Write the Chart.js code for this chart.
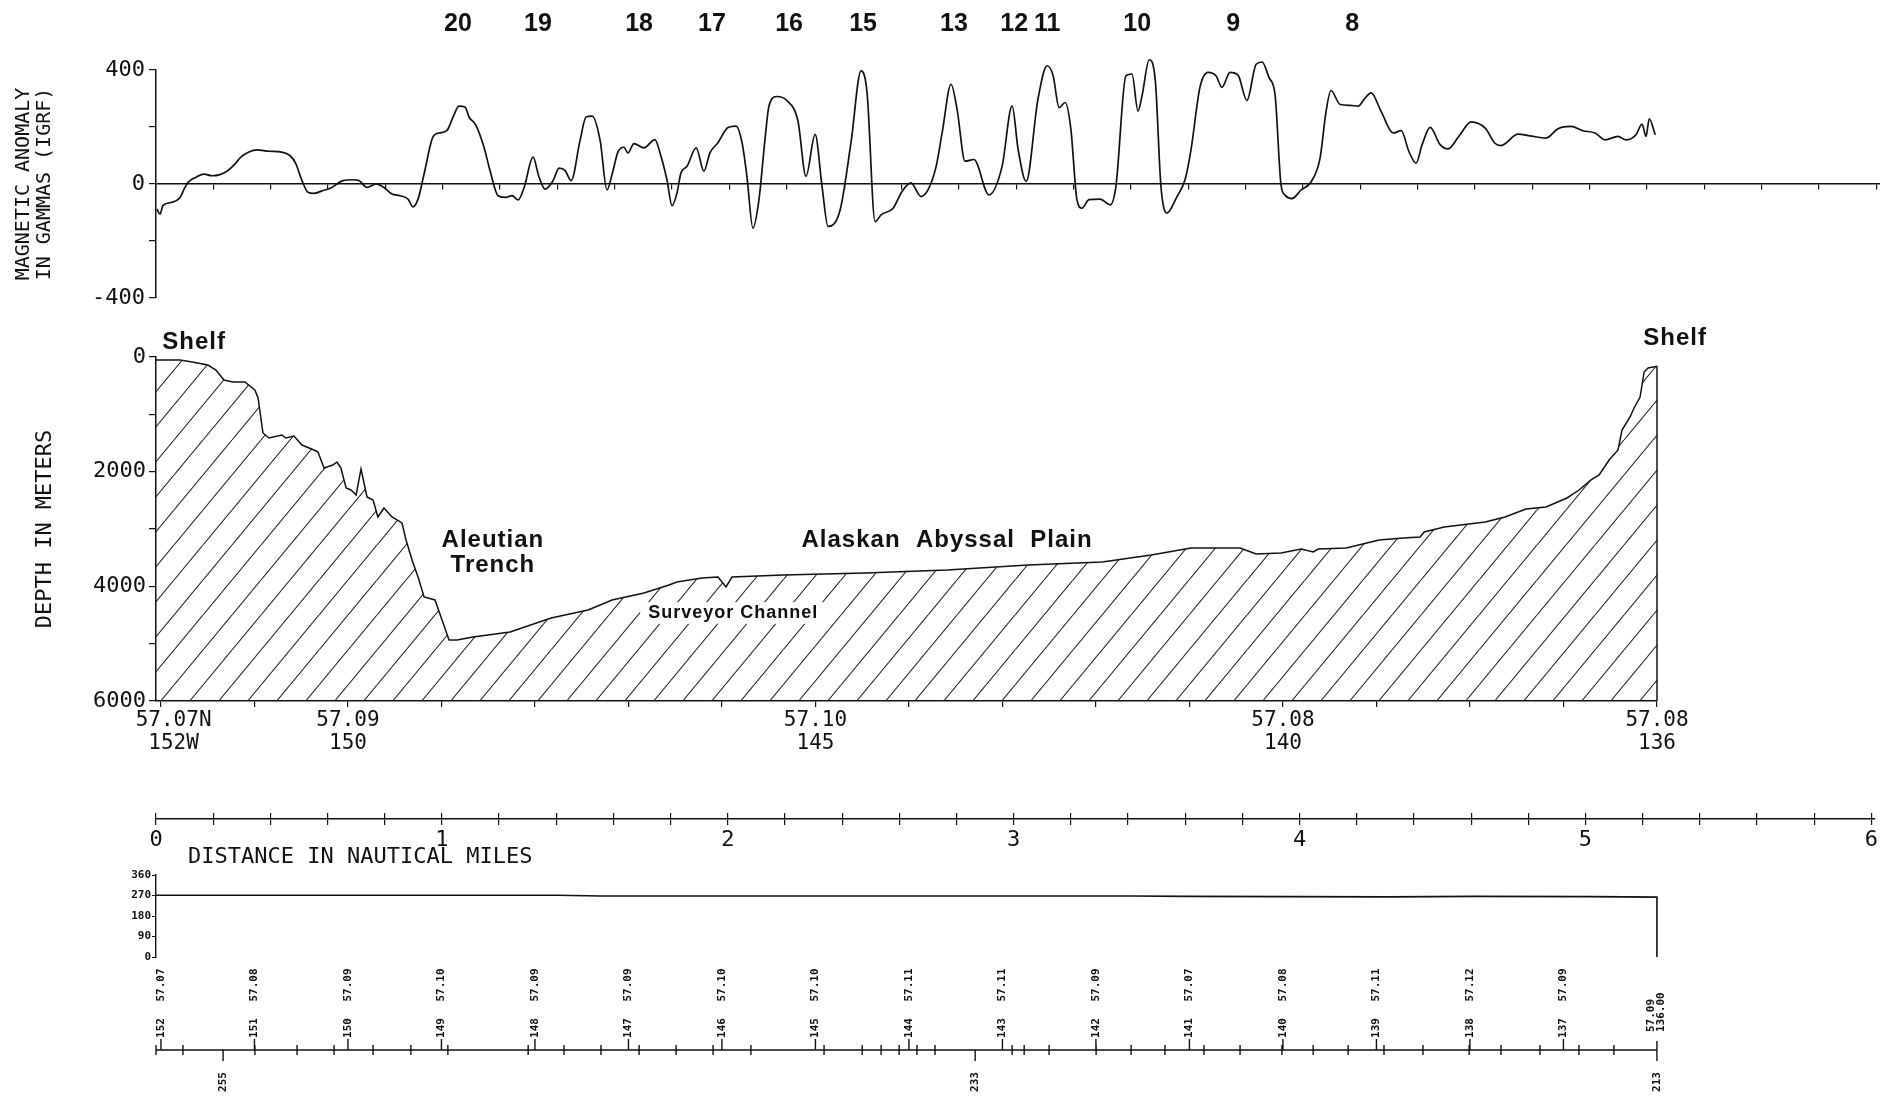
<!DOCTYPE html>
<html lang="en">
<head>
<meta charset="utf-8">
<title>Magnetic anomaly and depth profile, 57N, 152W - 136W</title>
<script src="https://cdn.jsdelivr.net/npm/chart.js@4.4.1/dist/chart.umd.min.js"></script>
<style>
  html, body { margin: 0; padding: 0; background: #fff; }
  body { width: 1880px; height: 1097px; position: relative; overflow: hidden; }
  canvas { position: absolute; left: 0; }
</style>
</head>
<body>
<canvas id="magChart" width="1880" height="320" style="top:0"></canvas>
<canvas id="depthChart" width="1880" height="460" style="top:300px"></canvas>
<canvas id="distChart" width="1880" height="110" style="top:780px"></canvas>
<canvas id="trackChart" width="1880" height="237" style="top:860px"></canvas>

<script>
// ---- data (x = distance along track, plot units 0..6) ----
const magDist = [0.003,0.014,0.024,0.052,0.084,0.098,0.112,0.140,0.167,0.195,0.223,0.248,0.276,0.296,0.324,0.352,0.394,0.439,0.467,0.488,
  0.509,0.530,0.551,0.579,0.610,0.652,0.687,0.708,0.736,0.767,0.795,0.823,0.851,0.879,0.896,0.914,0.935,0.966,0.987,1.015,
  1.036,1.057,1.078,1.092,1.116,1.144,1.165,1.193,1.221,1.242,1.263,1.284,1.315,1.336,1.357,1.385,1.406,1.427,1.448,1.479,
  1.500,1.521,1.549,1.573,1.591,1.611,1.632,1.646,1.667,1.702,1.740,1.761,1.782,1.800,1.817,1.831,1.852,1.884,1.911,1.932,
  1.960,1.995,2.023,2.044,2.061,2.082,2.103,2.124,2.138,2.166,2.201,2.239,2.267,2.299,2.323,2.344,2.386,2.424,2.459,2.480,
  2.508,2.529,2.571,2.602,2.633,2.668,2.693,2.721,2.742,2.773,2.794,2.822,2.853,2.905,2.951,2.986,3.007,3.035,3.076,3.108,
  3.129,3.150,3.171,3.191,3.212,3.230,3.254,3.293,3.328,3.348,3.383,3.404,3.425,3.439,3.464,3.485,3.505,3.526,3.561,3.589,
  3.610,3.641,3.669,3.697,3.718,3.746,3.774,3.805,3.837,3.858,3.882,3.903,3.924,3.938,3.962,3.994,4.029,4.060,4.081,4.098,
  4.130,4.165,4.193,4.213,4.238,4.273,4.315,4.343,4.370,4.395,4.416,4.444,4.479,4.506,4.548,4.587,4.636,4.670,4.691,4.751,
  4.792,4.848,4.890,4.935,4.977,5.019,5.054,5.099,5.127,5.162,5.183,5.197,5.208,5.229];
const magGammas = [-88,-106,-76,-65,-47,-18,6,24,35,29,33,45,71,94,112,120,115,112,100,71,
  12,-29,-33,-24,-14,12,15,12,-12,0,-12,-35,-41,-53,-80,-53,35,165,179,188,
  235,273,270,235,206,129,47,-41,-47,-41,-56,-12,94,24,-18,12,56,47,12,153,
  235,238,153,-21,35,112,129,109,142,127,156,98,15,-76,-32,39,62,127,45,109,
  145,198,203,145,27,-155,-55,156,274,307,292,221,27,174,-8,-149,-91,145,397,321,
  -132,-108,-85,-26,4,-44,-20,62,180,350,262,80,86,-38,62,274,121,9,297,415,
  380,268,286,192,-55,-85,-55,-53,-73,-8,380,386,256,309,436,368,-8,-102,-44,15,
  121,339,392,380,339,392,382,293,420,428,373,314,-4,-39,-51,-21,8,91,255,328,
  279,276,273,296,320,255,179,187,114,73,138,199,138,123,173,218,196,143,135,175,
  169,161,194,202,187,179,155,167,155,173,210,167,229,173];

const anomalyIds  = ['20','19','18','17','16','15','13','12','11','10','9','8'];
const anomalyDist = [1.053,1.332,1.685,1.939,2.208,2.466,2.783,2.993,3.108,3.422,3.757,4.172];

const depthDist = [0.000,0.084,0.126,0.181,0.209,0.237,0.269,0.310,0.345,0.356,0.373,0.394,0.439,0.453,0.481,0.509,0.551,0.565,0.586,0.617,
  0.631,0.645,0.663,0.680,0.698,0.715,0.736,0.757,0.774,0.795,0.823,0.858,0.872,0.893,0.914,0.935,0.973,0.994,1.022,1.050,
  1.106,1.235,1.378,1.507,1.591,1.702,1.789,1.817,1.904,1.960,1.988,2.009,2.187,2.473,2.759,3.042,3.300,3.471,3.610,3.781,
  3.837,3.924,3.994,4.036,4.053,4.151,4.266,4.350,4.409,4.423,4.493,4.636,4.705,4.778,4.848,4.921,4.963,5.005,5.033,5.068,
  5.099,5.113,5.141,5.155,5.176,5.190,5.204,5.235];
const depthMeters = [52,52,87,140,227,401,436,436,576,715,1325,1413,1360,1413,1378,1535,1622,1657,1936,1884,
  1831,1936,2285,2320,2407,1953,2442,2494,2790,2634,2790,2895,3192,3541,3837,4186,4238,4535,4936,4936,
  4883,4796,4552,4412,4238,4116,3977,3924,3854,3837,4011,3837,3802,3767,3715,3628,3575,3453,3331,3331,
  3436,3418,3349,3401,3349,3331,3192,3157,3139,3052,2965,2878,2790,2651,2616,2459,2320,2145,2058,1796,
  1622,1273,1046,889,698,262,192,160];

const headingDist = [0, 1.4, 1.55, 2.6, 3.4, 3.6, 4.3, 4.6, 5.0, 5.235, 5.235];
const headingDeg  = [271, 271, 268, 268, 268, 266, 264, 266, 265, 263, 0];

// longitude ticks (deg W) and the latitude printed at each
const lonDegrees = [152,151,150,149,148,147,146,145,144,143,142,141,140,139,138,137,136];
const trackLat = ['57.07','57.08','57.09','57.10','57.09','57.09','57.10','57.10','57.11','57.11','57.09','57.07','57.08','57.11','57.12','57.09'];
const endLat = '57.09', endLon = '136.00';
const depthLabelLon = [152, 150, 145, 140, 136];
const depthLabelLat = ['  57.07N', '57.09', '57.10', '57.08', '57.08'];
const depthLabelLonText = ['  152W', '150', '145', '140', '136'];

const timeTickDist = [0,0.094,0.345,0.492,0.621,0.757,0.889,1.018,1.298,1.423,1.552,1.685,1.814,1.943,2.075,2.330,2.463,2.529,2.592,2.654,
  2.717,2.986,3.028,3.115,3.279,3.401,3.519,3.655,3.781,3.927,4.036,4.158,4.283,4.419,4.580,4.691,4.827,4.963,5.085];
const courseDist = [0.234, 2.857, 5.235];
const courseLabels = ['255', '233', '213'];

// ---- shared geometry ----
const DMAX = 6.013;            // right edge of the long panels
const DEPTH_END = 5.235;       // end of the profile
const LON_AT_ORIGIN = 152.053, DEG_PER_UNIT = 3.0665;
const lonAt = d => LON_AT_ORIGIN - d * DEG_PER_UNIT;

const INK = '#111';
const mono = "'DejaVu Sans Mono', monospace";
const bold = "'Liberation Sans', Arial, sans-serif";
Chart.defaults.font.family = mono;
Chart.defaults.color = INK;
Chart.defaults.animation = false;

const pts = (xs, ys) => xs.map((x, i) => ({ x: x, y: ys[i] }));
const noLegend = { legend: { display: false }, tooltip: { enabled: false } };

function makeHatch() {
  const w = 29, h = 35;
  const c = document.createElement('canvas');
  c.width = w; c.height = h;
  const g = c.getContext('2d');
  g.strokeStyle = '#222'; g.lineWidth = 1.1;
  g.beginPath();
  for (const o of [-1, 0, 1]) { g.moveTo(o * w, h); g.lineTo(o * w + w, 0); }
  g.stroke();
  return g.createPattern(c, 'repeat');
}

// ---- magnetic anomaly ----
const anomalyPlugin = {
  id: 'anomalyIds',
  afterDraw(chart) {
    const ctx = chart.ctx, xs = chart.scales.x;
    ctx.save();
    ctx.font = 'bold 25px ' + bold;
    ctx.fillStyle = INK; ctx.textAlign = 'center'; ctx.textBaseline = 'middle';
    anomalyIds.forEach((id, i) => ctx.fillText(id, xs.getPixelForValue(anomalyDist[i]), 24));
    ctx.restore();
  }
};

new Chart(document.getElementById('magChart'), {
  type: 'line',
  data: { datasets: [{ data: pts(magDist, magGammas), borderColor: INK, borderWidth: 1.7,
    pointRadius: 0, cubicInterpolationMode: 'monotone', fill: false, clip: false }] },
  options: {
    responsive: false,
    layout: { padding: { top: 70, bottom: 22, left: 0, right: 0 } },
    plugins: noLegend,
    scales: {
      x: { type: 'linear', min: 0, max: DMAX, position: { y: 0 },
        afterFit: s => { s.height = 0; },
        ticks: { display: false, stepSize: 0.2, autoSkip: false, includeBounds: false },
        grid: { drawOnChartArea: false, tickLength: 5, color: INK, lineWidth: 1.2 },
        border: { color: INK, width: 1.5 } },
      y: { min: -400, max: 400,
        afterFit: s => { s.width = 156; },
        ticks: { stepSize: 200, padding: 4, font: { size: 22 },
          callback: v => (v === 400 || v === 0 || v === -400) ? String(v) : '' },
        grid: { drawOnChartArea: false, tickLength: 7, color: INK, lineWidth: 1.2 },
        border: { color: INK, width: 1.5 },
        title: { display: true, text: ['MAGNETIC ANOMALY', 'IN GAMMAS (IGRF)'], color: INK,
          font: { size: 20, lineHeight: 1.05 }, padding: { top: 13, bottom: 0 } } }
    }
  },
  plugins: [anomalyPlugin]
});

// ---- depth profile ----
const depthNotes = [
  { text: 'Shelf', d: 0.133, m: -262, size: 24 },
  { text: 'Aleutian', d: 1.175, m: 3192, size: 24 },
  { text: 'Trench', d: 1.175, m: 3628, size: 24 },
  { text: 'Alaskan  Abyssal  Plain', d: 2.759, m: 3192, size: 24 },
  { text: 'Surveyor Channel', d: 2.013, m: 4465, size: 18, clear: true },
  { text: 'Shelf', d: 5.298, m: -331, size: 24 }
];

const depthPlugin = {
  id: 'depthNotes',
  afterDatasetsDraw(chart) {
    const ctx = chart.ctx, xs = chart.scales.x, ys = chart.scales.y;
    const meta = chart.getDatasetMeta(0);
    const last = meta.data[meta.data.length - 1];
    ctx.save();
    ctx.strokeStyle = INK; ctx.lineWidth = 1.5;
    ctx.beginPath(); ctx.moveTo(last.x, last.y); ctx.lineTo(last.x, ys.getPixelForValue(6000)); ctx.stroke();
    ctx.textAlign = 'center'; ctx.textBaseline = 'middle';
    ctx.letterSpacing = '1px';
    depthNotes.forEach(n => {
      const x = xs.getPixelForValue(n.d), y = ys.getPixelForValue(n.m);
      ctx.font = 'bold ' + n.size + 'px ' + bold;
      if (n.clear) {
        const w = ctx.measureText(n.text).width;
        ctx.fillStyle = '#fff';
        ctx.fillRect(x - w / 2 - 8, y - n.size * 0.6, w + 16, n.size * 1.2);
      }
      ctx.fillStyle = INK;
      ctx.fillText(n.text, x, y);
    });
    ctx.restore();
  }
};

new Chart(document.getElementById('depthChart'), {
  type: 'line',
  data: { datasets: [{ data: pts(depthDist, depthMeters), borderColor: INK, borderWidth: 1.5,
    pointRadius: 0, tension: 0, fill: { value: 6000 }, backgroundColor: makeHatch() }] },
  options: {
    responsive: false,
    layout: { padding: { top: 57, bottom: 4, left: 0, right: 223 } },
    plugins: noLegend,
    scales: {
      x: { type: 'linear', min: 0, max: DEPTH_END, display: false },
      lon: { type: 'linear', axis: 'x', position: 'bottom', reverse: true,
        min: lonAt(DEPTH_END), max: LON_AT_ORIGIN,
        afterFit: s => { s.height = 55; },
        afterBuildTicks: s => { s.ticks = lonDegrees.map(v => ({ value: v })); },
        ticks: { autoSkip: false, maxRotation: 0, padding: 3, font: { size: 21, lineHeight: 1.05 },
          callback: v => {
            const i = depthLabelLon.indexOf(Math.round(v));
            return i < 0 ? '' : [depthLabelLat[i], depthLabelLonText[i]];
          } },
        grid: { drawOnChartArea: false, tickLength: 6, color: INK, lineWidth: 1.2 },
        border: { color: INK, width: 1.5 } },
      y: { reverse: true, min: 0, max: 6000,
        afterFit: s => { s.width = 156; },
        ticks: { stepSize: 1000, padding: 3, font: { size: 22 },
          callback: v => v % 2000 === 0 ? String(v) : '' },
        grid: { drawOnChartArea: false, tickLength: 7, color: INK, lineWidth: 1.2 },
        border: { color: INK, width: 1.5 },
        title: { display: true, text: 'DEPTH IN METERS', color: INK,
          font: { size: 22, lineHeight: 1 }, padding: { top: 34, bottom: 0 } } }
    }
  },
  plugins: [depthPlugin]
});

// ---- distance scale ----
const distPlugin = {
  id: 'distTitle',
  afterDraw(chart) {
    const ctx = chart.ctx;
    ctx.save();
    ctx.font = '22px ' + mono; ctx.fillStyle = INK;
    ctx.textAlign = 'left'; ctx.textBaseline = 'middle';
    ctx.fillText('DISTANCE IN NAUTICAL MILES', chart.scales.x.getPixelForValue(0.112), 77);
    ctx.restore();
  }
};

new Chart(document.getElementById('distChart'), {
  type: 'line',
  data: { datasets: [] },
  options: {
    responsive: false,
    layout: { padding: { top: 33, bottom: 31, left: 156, right: 0 } },
    plugins: noLegend,
    scales: {
      x: { type: 'linear', min: 0, max: DMAX,
        afterFit: s => { s.height = 40; },
        ticks: { stepSize: 0.2, autoSkip: false, includeBounds: false, maxRotation: 0, padding: 2,
          font: { size: 22 },
          callback: v => Math.abs(v - Math.round(v)) < 1e-6 ? String(Math.round(v)) : '' },
        grid: { drawOnChartArea: true, tickLength: 6, color: INK, lineWidth: 1.2 },
        border: { color: INK, width: 1.5 } },
      y: { display: false, min: 0, max: 1 }
    }
  },
  plugins: [distPlugin]
});

// ---- heading and track ----
const trackPlugin = {
  id: 'trackAxis',
  afterDraw(chart) {
    const ctx = chart.ctx, xs = chart.scales.x, ls = chart.scales.lon;
    const yAxis = 190;
    const x0 = xs.getPixelForValue(0), x1 = ls.getPixelForValue(136);
    ctx.save();
    ctx.strokeStyle = INK; ctx.fillStyle = INK; ctx.lineWidth = 1.4;
    ctx.beginPath();
    ctx.moveTo(x0, yAxis); ctx.lineTo(x1, yAxis);
    timeTickDist.forEach(d => {
      const x = xs.getPixelForValue(d);
      ctx.moveTo(x, yAxis - 5); ctx.lineTo(x, yAxis + 5);
    });
    lonDegrees.slice(0, -1).forEach(lon => {
      const x = ls.getPixelForValue(lon);
      ctx.moveTo(x, yAxis); ctx.lineTo(x, yAxis - 11);
    });
    ctx.moveTo(x1, yAxis - 9); ctx.lineTo(x1, yAxis + 6);
    courseDist.forEach(d => {
      const x = xs.getPixelForValue(d);
      ctx.moveTo(x, yAxis); ctx.lineTo(x, yAxis + 11);
    });
    ctx.stroke();

    ctx.font = 'bold 11px ' + mono;
    const vtext = (t, x, y, align) => {
      ctx.save(); ctx.translate(x, y); ctx.rotate(-Math.PI / 2);
      ctx.textAlign = align || 'center'; ctx.textBaseline = 'middle';
      ctx.fillText(t, 0, 0); ctx.restore();
    };
    trackLat.forEach((lat, i) => {
      const x = ls.getPixelForValue(lonDegrees[i]);
      vtext(lat, x, 125);
      vtext(String(lonDegrees[i]), x, 168);
    });
    vtext(endLat, x1 - 6, 172, 'left');
    vtext(endLon, x1 + 4, 172, 'left');
    courseLabels.forEach((c, i) => vtext(c, xs.getPixelForValue(courseDist[i]), 222));
    ctx.restore();
  }
};

new Chart(document.getElementById('trackChart'), {
  type: 'line',
  data: { datasets: [{ data: pts(headingDist, headingDeg), borderColor: INK, borderWidth: 1.6,
    pointRadius: 0, tension: 0, fill: false }] },
  options: {
    responsive: false,
    layout: { padding: { top: 15, bottom: 140, left: 0, right: 0 } },
    plugins: noLegend,
    scales: {
      x: { type: 'linear', min: 0, max: DMAX, display: false },
      lon: { type: 'linear', axis: 'x', reverse: true, min: lonAt(DMAX), max: LON_AT_ORIGIN, display: false },
      y: { min: 0, max: 360,
        afterFit: s => { s.width = 156; },
        ticks: { stepSize: 90, padding: 1, font: { size: 11, weight: 'bold' } },
        grid: { drawOnChartArea: false, tickLength: 4, color: INK },
        border: { color: INK, width: 1.4 } }
    }
  },
  plugins: [trackPlugin]
});
</script>
</body>
</html>
